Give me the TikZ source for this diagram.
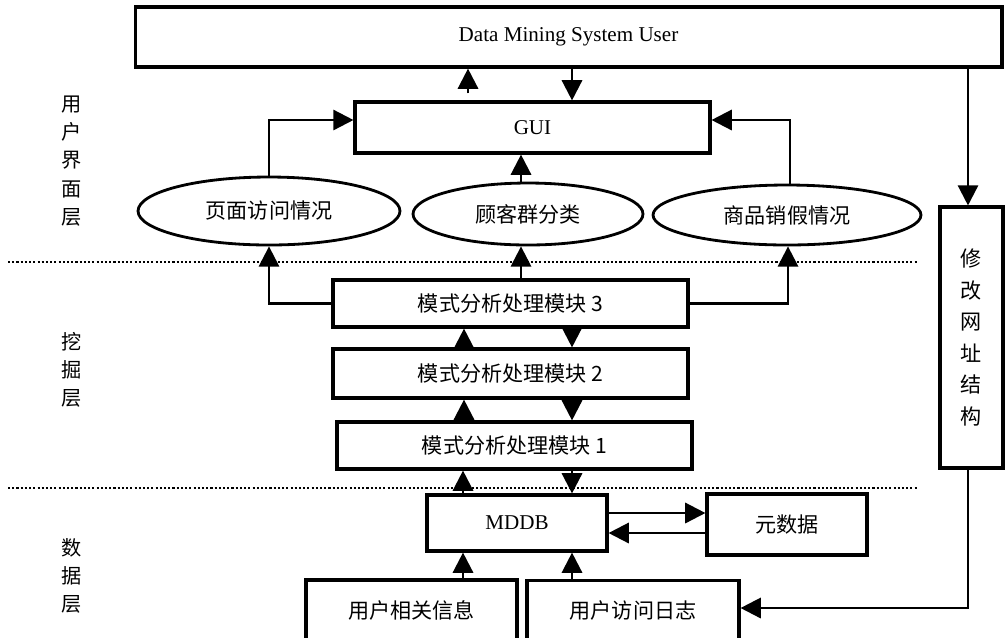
\documentclass[tikz,border=0pt]{standalone}
\usepackage{fontspec}
\setmainfont{Liberation Serif}
\newfontfamily\cjk{Noto Sans CJK SC}
\usepackage{tikz}
\usetikzlibrary{arrows.meta, positioning, shapes.geometric, calc}

\begin{document}
\begin{tikzpicture}[x=0.02cm, y=-0.02cm, >={Triangle[length=11.5pt, width=11.5pt]},
  font=\fontsize{12}{14}\selectfont,
  box/.style={draw, line width=1.8pt, inner sep=0pt},
  oval/.style={draw, ellipse, line width=1.6pt, inner sep=0pt, font=\cjk\fontsize{12}{14}\selectfont},
  zh/.style={font=\cjk\fontsize{12}{14}\selectfont},
  arr/.style={->, line width=1.4pt},
  sep/.style={line width=1.4pt, dash pattern=on 1.2pt off 1.2pt},
  layer/.style={align=center, font=\cjk\fontsize{11.5}{16}\selectfont}]
\useasboundingbox (0,0) rectangle (1006,637);
% Boxes
\node[box, minimum width=17.34cm, minimum height=1.2cm] (user) at (568.5,37) {Data Mining System User};
\node[box, minimum width=7.1cm, minimum height=1.02cm] (gui) at (532.5,127.5) {GUI};
\node[oval, minimum width=5.24cm, minimum height=1.36cm] (page) at (269,211) {页面访问情况};
\node[oval, minimum width=4.6cm, minimum height=1.24cm] (cust) at (528,214) {顾客群分类};
\node[oval, minimum width=5.36cm, minimum height=1.2cm] (goods) at (787,215) {商品销假情况};
\node[box, zh, minimum width=7.1cm, minimum height=0.94cm] (modC) at (510.5,303.5) {模式分析处理模块 3};
\node[box, zh, minimum width=7.1cm, minimum height=0.98cm] (modB) at (510.5,373.5) {模式分析处理模块 2};
\node[box, zh, minimum width=7.1cm, minimum height=0.94cm] (modA) at (514.5,445.5) {模式分析处理模块 1};
\node[box, minimum width=3.6cm, minimum height=1.12cm] (mddb) at (517,523) {MDDB};
\node[box, zh, minimum width=3.2cm, minimum height=1.22cm] (meta) at (787,524.5) {元数据};
\node[box, zh, minimum width=4.22cm, minimum height=1.2cm] (uinfo) at (411.5,610) {用户相关信息};
\node[box, zh, minimum width=4.24cm, minimum height=1.2cm] (ulog) at (633,610.5) {用户访问日志};
\node[box, align=center, font=\cjk\fontsize{12}{18}\selectfont, minimum width=1.26cm, minimum height=5.22cm] (url) at (971.5,337.5) {修\\改\\网\\址\\结\\构};
% Layer labels
\node[layer] (lUI) at (72,161) {用\\户\\界\\面\\层};
\node[layer] (lMine) at (72,370) {挖\\掘\\层};
\node[layer] (lData) at (72,576) {数\\据\\层};
% Separators
\coordinate (s1a) at (8,262);  \coordinate (s1b) at (917,262);
\coordinate (s2a) at (8,488);  \coordinate (s2b) at (917,488);
\draw[sep] (s1a) -- (s1b);
\draw[sep] (s2a) -- (s2b);
% User <-> GUI
\draw[arr] ([yshift=4pt]gui.north -| 468,0) -- (user.south -| 468,0);
\draw[arr] (user.south -| 572,0) -- (gui.north -| 572,0);
% Results -> GUI
\draw[arr] (page.north) |- (gui.west |- 0,120);
\draw[arr] (goods.north -| 790,0) |- (gui.east |- 0,120);
\draw[arr] (cust.north -| 521,0) -- (gui.south -| 521,0);
% Module 3 -> results
\draw[arr] (modC.west) -| (page.south);
\draw[arr] (modC.east) -| (goods.south -| 788,0);
\draw[arr] (modC.north -| 521,0) -- (cust.south -| 521,0);
% Between modules
\draw[arr] (modB.north -| 464,0) -- (modC.south -| 464,0);
\draw[arr] (modC.south -| 572,0) -- (modB.north -| 572,0);
\draw[arr] (modA.north -| 464,0) -- (modB.south -| 464,0);
\draw[arr] (modB.south -| 572,0) -- (modA.north -| 572,0);
\draw[arr] (mddb.north -| 463,0) -- (modA.south -| 463,0);
\draw[arr] (modA.south -| 572,0) -- (mddb.north -| 572,0);
% Data layer
\draw[arr] (mddb.east |- 0,513) -- (meta.west |- 0,513);
\draw[arr] (meta.west |- 0,533) -- (mddb.east |- 0,533);
\draw[arr] (uinfo.north -| 463,0) -- (mddb.south -| 463,0);
\draw[arr] (ulog.north -| 572,0) -- (mddb.south -| 572,0);
% URL feedback
\draw[arr] (user.south -| 968,0) -- (url.north -| 968,0);
\draw[arr] (url.south -| 968,0) |- (ulog.east |- 0,608);
\end{tikzpicture}
\end{document}
